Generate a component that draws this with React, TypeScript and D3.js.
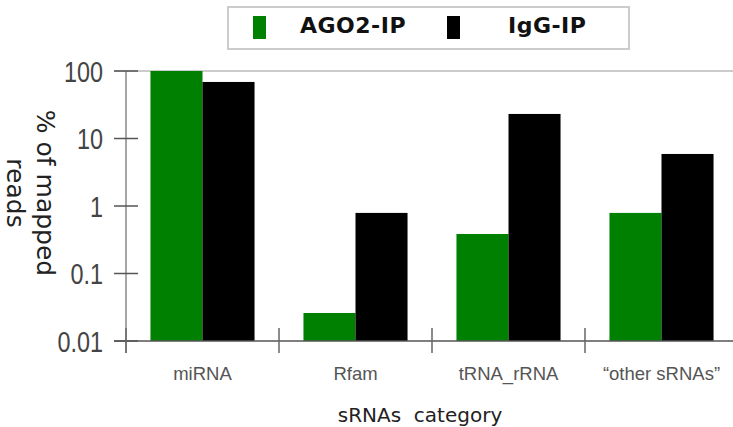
import * as d3 from 'd3';

const categories = ['miRNA', 'Rfam', 'tRNA_rRNA', '\u201cother sRNAs\u201d'];
const seriesNames = ['AGO2-IP', 'IgG-IP'];
const ago2Values = [100, 0.026, 0.385, 0.79];
const iggValues = [68.8, 0.79, 23.1, 5.9];
const yTickValues = [0.01, 0.1, 1, 10, 100];
const yTickLabels = ['0.01', '0.1', '1', '10', '100'];

const W = 733, H = 427;
const X0 = 126, STEP = 153, YTOP = 71, YBOT = 341;
const COLORS = ['#008000', '#000000'];

export default function App() {
  const x = d3.scaleBand<string>()
    .domain(categories)
    .range([X0, X0 + STEP * categories.length])
    .paddingInner(0)
    .paddingOuter(0);

  const x1 = d3.scaleBand<string>()
    .domain(seriesNames)
    .range([0, x.bandwidth()])
    .paddingInner(0)
    .paddingOuter(0.47);

  const y = d3.scaleLog().domain([0.01, 100]).range([YBOT, YTOP]);

  const rows = categories.map((c, i) => ({
    cat: c,
    vals: [ago2Values[i], iggValues[i]],
  }));

  const tickFont = 'Arial, "Liberation Sans", sans-serif';
  const titleFont = '"DejaVu Sans", Verdana, sans-serif';

  return (
    <div style={{ position: 'absolute', left: 0, top: 0 }}>
      <svg width={W} height={H} viewBox={`0 0 ${W} ${H}`} style={{ display: 'block', background: '#fff' }}>
        {/* top reference line */}
        <line x1={114} x2={W} y1={y(100)} y2={y(100)} stroke="#bbb" strokeWidth={1.5} />

        {/* bars */}
        {rows.map((r) => (
          <g key={r.cat} transform={`translate(${x(r.cat)},0)`}>
            {r.vals.map((v, j) => (
              <rect
                key={seriesNames[j]}
                x={x1(seriesNames[j])}
                width={x1.bandwidth()}
                y={y(v)}
                height={YBOT - y(v)}
                fill={COLORS[j]}
              />
            ))}
          </g>
        ))}

        {/* y axis */}
        <line x1={X0} x2={X0} y1={YTOP} y2={353} stroke="#888" strokeWidth={1.5} />
        {yTickValues.map((t, i) => (
          <g key={t}>
            <line x1={114} x2={138} y1={y(t)} y2={y(t)} stroke="#555" strokeWidth={1.5} />
            <text
              transform={`translate(103,${y(t)}) scale(0.78,1)`}
              textAnchor="end"
              dy="0.36em"
              fontFamily={tickFont}
              fontSize={30}
              fill="#444"
            >
              {yTickLabels[i]}
            </text>
          </g>
        ))}

        {/* x axis */}
        <line x1={114} x2={W} y1={YBOT} y2={YBOT} stroke="#555" strokeWidth={1.5} />
        {categories.map((c) => (
          <g key={c}>
            <line x1={x(c)} x2={x(c)} y1={328} y2={353} stroke="#666" strokeWidth={1.5} />
            <text
              x={(x(c) as number) + x.bandwidth() / 2}
              y={380}
              textAnchor="middle"
              fontFamily={tickFont}
              fontSize={18.5}
              fill="#555"
            >
              {c}
            </text>
          </g>
        ))}

        {/* axis titles */}
        <text x={420} y={422} textAnchor="middle" fontFamily={titleFont} fontSize={20} fill="#222">
          {'sRNAs\u00a0\u00a0category'}
        </text>
        <text
          transform="translate(37,193) rotate(90)"
          textAnchor="middle"
          fontFamily={titleFont}
          fontSize={25}
          fill="#222"
        >
          <tspan x={0} dy={0}>% of mapped</tspan>
          <tspan x={0} dy={30}>reads</tspan>
        </text>

        {/* legend */}
        <rect x={228} y={7} width={401} height={42} fill="#fff" stroke="#ccc" strokeWidth={2} />
        {seriesNames.map((s, i) => (
          <g key={s} transform={`translate(${253 + i * 194},0)`}>
            <rect x={0} y={16} width={13} height={23} fill={COLORS[i]} />
            <text
              x={i === 0 ? 47 : 61}
              y={32.5}
              fontFamily={titleFont}
              fontWeight="bold"
              fontSize={22}
              letterSpacing={0.5}
              fill="#111"
            >
              {s}
            </text>
          </g>
        ))}
      </svg>
    </div>
  );
}
